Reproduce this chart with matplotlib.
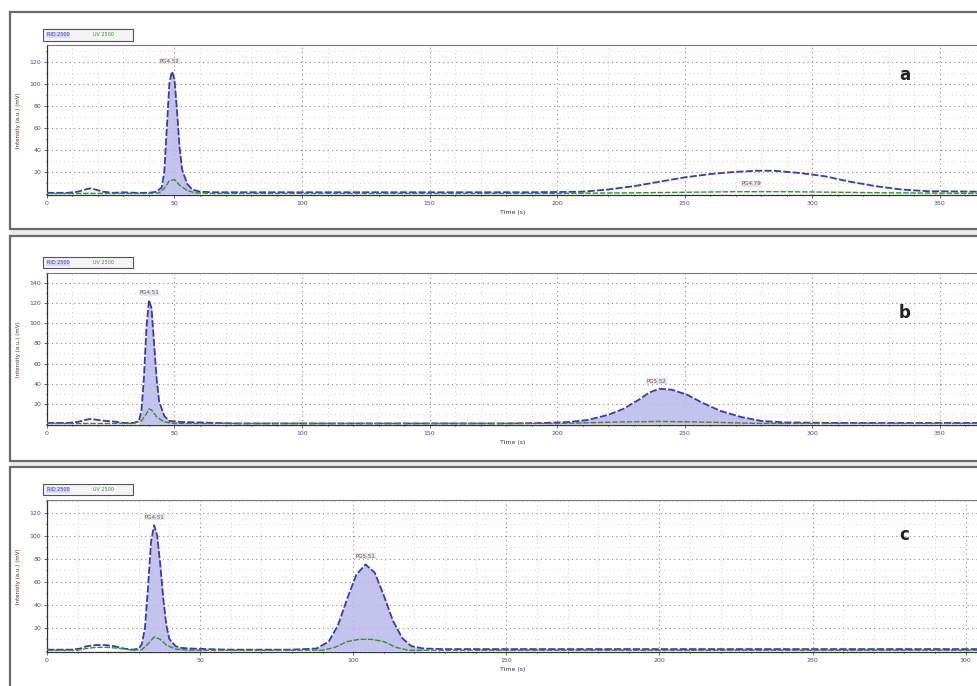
import numpy as np
import matplotlib
matplotlib.use("Agg")
import matplotlib.pyplot as plt
from matplotlib.patches import Rectangle
from matplotlib.ticker import MultipleLocator

# === datos (tiempo en s, intensidad) ===

# panel a
t_a_azul = [0, 8, 12, 15, 17, 19, 22, 26, 30, 35, 40, 43, 45, 46, 47, 48, 49, 50, 51, 52, 53, 55, 57,
            60, 65, 80, 120, 160, 190, 210, 220, 230, 240, 250, 260, 270, 278, 285, 295, 305, 315, 325,
            335, 345, 366]
v_a_azul = [1, 1, 2, 4, 5, 4, 2, 1, 1.5, 1, 1, 2, 6, 20, 60, 100, 111, 104, 75, 42, 22, 9, 4,
            2, 1.5, 1.5, 1.5, 1.5, 1.5, 2, 4, 7, 11, 15, 18, 20, 21, 21, 19, 16, 11, 7,
            4, 2.5, 2]
t_a_verde = [0, 40, 44, 46, 48, 50, 52, 55, 58, 65, 200, 230, 250, 270, 290, 310, 330, 366]
v_a_verde = [0.5, 0.5, 1, 5, 12, 13, 8, 3, 1, 0.5, 0.5, 1, 1.5, 2, 2, 1.5, 1, 0.5]
picos_a = [(43, 62)]
etiquetas_a = [(48, 118, "PG4.52"), (276, 7, "PG4.79")]

# panel b
t_b_azul = [0, 8, 12, 15, 17, 20, 23, 26, 30, 34, 36, 37, 38, 39, 40, 41, 42, 43, 44, 46, 48, 52,
            60, 66, 75, 120, 180, 195, 205, 212, 220, 226, 232, 236, 240, 245, 251, 257, 264, 272,
            280, 290, 310, 366]
v_b_azul = [1, 1, 2, 4, 5, 4, 3, 2.5, 1, 1, 3, 12, 45, 95, 123, 115, 80, 45, 22, 8, 3, 2,
            1.5, 1, 0.5, 0.5, 0.5, 1, 2, 4, 9, 15, 24, 31, 35, 34, 29, 21, 13, 7,
            3, 1.5, 1, 1]
t_b_verde = [0, 34, 37, 39, 40, 41, 43, 46, 50, 200, 225, 240, 255, 280, 366]
v_b_verde = [0.5, 0.5, 3, 10, 15, 14, 7, 2, 0.5, 0.5, 2, 2.5, 2, 0.5, 0.5]
picos_b = [(35, 66), (190, 290)]
etiquetas_b = [(40, 128, "PG4.51"), (239, 40, "PG5.52")]

# panel c
t_c_azul = [0, 8, 11, 13, 16, 19, 22, 25, 28, 30, 31, 32, 33, 34, 35, 36, 37, 38, 39, 40, 42, 44,
            47, 52, 60, 80, 88, 92, 95, 98, 101, 104, 107, 110, 113, 116, 119, 123, 130, 140, 200, 304]
v_c_azul = [1, 1, 2, 4, 5, 5, 4, 2, 1, 2, 6, 20, 55, 95, 109, 100, 75, 45, 22, 10, 4, 2.5,
            2, 1.5, 1, 1, 2, 8, 22, 45, 66, 75, 68, 48, 26, 11, 4, 2, 1.5, 1.5, 1.5, 1.5]
t_c_verde = [0, 10, 13, 16, 20, 24, 28, 31, 33, 35, 37, 39, 42, 46, 90, 94, 98, 102, 106, 110,
             114, 118, 304]
v_c_verde = [0.5, 0.5, 2, 3, 3, 2, 0.5, 1, 6, 12, 10, 5, 1.5, 0.5, 0.5, 3, 8, 10, 10, 8,
             3, 0.5, 0.5]
picos_c = [(29, 52), (86, 128), (135, 304)]
etiquetas_c = [(35, 114, "PG4.51"), (104, 80, "PG5.51")]

paneles = [
    dict(letra="a", t1=t_a_azul, v1=v_a_azul, t2=t_a_verde, v2=v_a_verde, picos=picos_a,
         etq=etiquetas_a, xmax=365, ymax=135, yt=range(20, 121, 20),
         pos=[0.048, 0.7157, 0.952, 0.2187], marco=(0.6665, 0.9825), ly=0.891),
    dict(letra="b", t1=t_b_azul, v1=v_b_azul, t2=t_b_verde, v2=v_b_verde, picos=picos_b,
         etq=etiquetas_b, xmax=365, ymax=150, yt=range(20, 141, 20),
         pos=[0.048, 0.3805, 0.952, 0.2216], marco=(0.328, 0.656), ly=0.544),
    dict(letra="c", t1=t_c_azul, v1=v_c_azul, t2=t_c_verde, v2=v_c_verde, picos=picos_c,
         etq=etiquetas_c, xmax=304, ymax=131, yt=range(20, 121, 20),
         pos=[0.048, 0.0496, 0.952, 0.2216], marco=(-0.01, 0.319), ly=0.22),
]

AZUL = "#3b3ba6"
RELLENO = "#b9b9ea"
VERDE = "#3d8a3d"

fig = plt.figure(figsize=(9.78, 6.86), dpi=100)
fig.patch.set_facecolor("white")

# bandas grises entre paneles
fig.add_artist(Rectangle((0.0102, 0.656), 1.0, 0.0105, transform=fig.transFigure,
                         facecolor="#ececec", edgecolor="none", zorder=0))
fig.add_artist(Rectangle((0.0102, 0.319), 1.0, 0.009, transform=fig.transFigure,
                         facecolor="#ececec", edgecolor="none", zorder=0))

for p in paneles:
    y0, y1 = p["marco"]
    fig.add_artist(Rectangle((0.0102, y0), 1.0, y1 - y0, transform=fig.transFigure,
                             facecolor="white", edgecolor="#6a6a6a", linewidth=1.6, zorder=0))

    ax = fig.add_axes(p["pos"])
    ax.set_facecolor("white")
    t1 = np.array(p["t1"], dtype=float)
    v1 = np.array(p["v1"], dtype=float)
    for lo, hi in p["picos"]:
        m = (t1 >= lo) & (t1 <= hi)
        ax.fill_between(t1[m], 0, v1[m], color=RELLENO, alpha=0.85, linewidth=0, zorder=2)
    ax.plot(t1, v1, color=AZUL, lw=1.3, ls=(0, (4, 1.2)), zorder=3)
    ax.plot(p["t2"], p["v2"], color=VERDE, lw=1.0, ls=(0, (4, 1.2)), zorder=4)

    for x, y, s in p["etq"]:
        ax.text(x, y, s, fontsize=4, color="#6a5a30", ha="center", va="bottom",
                bbox=dict(boxstyle="square,pad=0.1", fc="#e8e4f4", ec="none"))

    ax.set_xlim(0, p["xmax"])
    ax.set_ylim(-1, p["ymax"])
    ax.xaxis.set_major_locator(MultipleLocator(50))
    ax.xaxis.set_minor_locator(MultipleLocator(10))
    ax.set_yticks(list(p["yt"]))
    ax.yaxis.set_minor_locator(MultipleLocator(10))
    ax.grid(True, which="major", color="#8a8a8a", ls=(0, (1, 3)), lw=0.8)
    ax.grid(True, which="minor", color="#c4c4c4", ls=(0, (1, 4)), lw=0.6)
    ax.tick_params(labelsize=4.5, colors="#4a4a7a", length=2, width=0.6, pad=2)
    ax.tick_params(which="minor", length=1)
    for lado in ["left", "bottom"]:
        ax.spines[lado].set_color("#333333")
        ax.spines[lado].set_linewidth(0.9)
    ax.spines["top"].set_color("#777777")
    ax.spines["right"].set_visible(False)
    ax.set_xlabel("Time (s)", fontsize=4.5, color="#333355", labelpad=3)
    ax.set_ylabel("Intensity (a.u.) (mV)", fontsize=4, color="#553322", labelpad=6)

    # leyenda pequena arriba a la izquierda
    ax.add_patch(Rectangle((-0.004, 1.03), 0.096, 0.075, transform=ax.transAxes, clip_on=False,
                           facecolor="#f4f4f4", edgecolor="#555555", linewidth=0.8))
    ax.text(0.0, 1.067, "RID 2500", transform=ax.transAxes, fontsize=3.5, color=AZUL,
            va="center", ha="left",
            bbox=dict(boxstyle="square,pad=0.15", fc="#d8d8f4", ec="none"))
    ax.text(0.05, 1.067, "UV 2500", transform=ax.transAxes, fontsize=3.5, color=VERDE,
            va="center", ha="left")

    fig.text(0.925, p["ly"], p["letra"], fontsize=12, fontweight="bold", color="#222222",
             ha="center", va="center")

fig.savefig("out.png", dpi=100, facecolor=fig.get_facecolor())
